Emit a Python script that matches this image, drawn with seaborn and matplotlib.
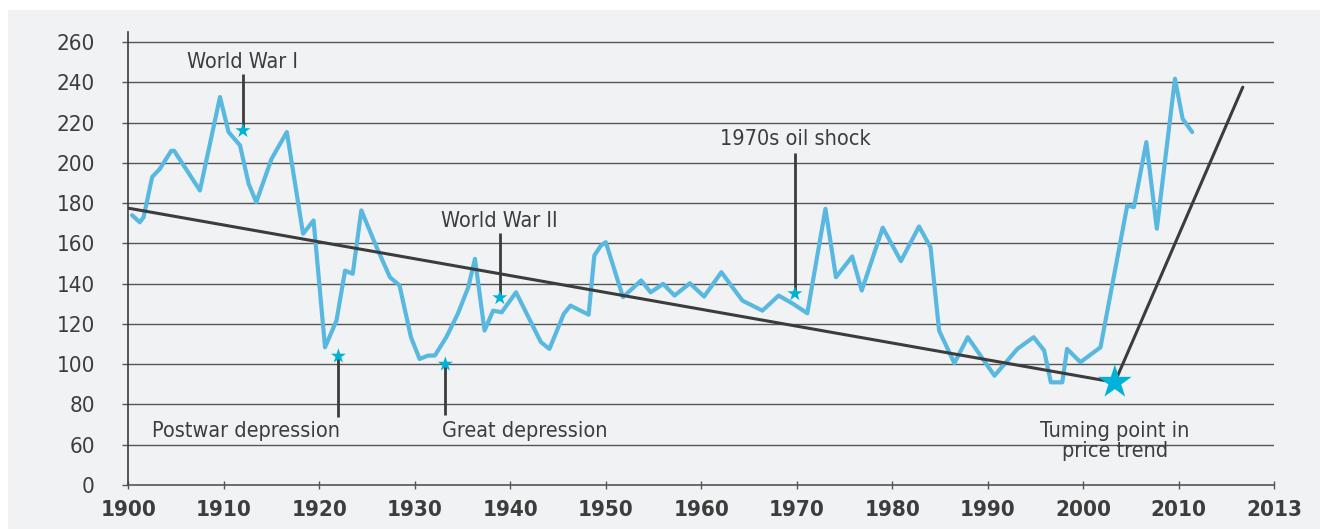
import numpy as np
import pandas as pd
import matplotlib.pyplot as plt
import seaborn as sns
from matplotlib import font_manager
from matplotlib.patches import Rectangle

# price index (vertices of the line)
years = [1900.4, 1901.2, 1901.6, 1902.5, 1903.3, 1904.5, 1904.8, 1907.5, 1909.6, 1910.5,
         1911.7, 1912.6, 1913.4, 1915.0, 1916.6, 1918.3, 1919.4, 1920.6, 1921.8, 1922.7,
         1923.5, 1924.4, 1926.0, 1927.4, 1928.4, 1929.6, 1930.5, 1931.4, 1932.1, 1933.3,
         1934.5, 1935.6, 1936.3, 1937.3, 1938.2, 1939.1, 1940.6, 1943.2, 1944.1, 1945.6,
         1946.3, 1948.2, 1948.8, 1949.5, 1950.0, 1951.8, 1953.7, 1954.7, 1956.0, 1957.2,
         1958.8, 1960.3, 1962.1, 1964.3, 1966.4, 1968.1, 1969.6, 1971.1, 1973.0, 1974.1,
         1975.8, 1976.8, 1979.0, 1980.9, 1982.8, 1984.0, 1984.9, 1986.5, 1987.9, 1990.7,
         1993.1, 1994.8, 1995.9, 1996.6, 1997.8, 1998.3, 1999.7, 2001.8, 2004.6, 2005.3,
         2006.6, 2007.7, 2009.6, 2010.4, 2011.4]
prices = [174, 170.5, 173, 193, 197, 206, 206, 186.3, 232.7, 215.3,
          208.7, 189.6, 180.5, 202, 215.3, 164.8, 171.4, 108.4, 121.7, 146.5,
          144.9, 176.4, 158.1, 143.2, 139.1, 113.4, 102.6, 104.3, 104.3, 113.4,
          125, 138.2, 152.3, 116.7, 126.6, 125.8, 135.7, 111, 107.6, 125,
          129.1, 124.6, 154, 159, 160.6, 133.3, 141.6, 135.7, 139.9, 134.1,
          140.2, 133.6, 145.7, 131.6, 126.6, 134.1, 130, 125.3, 177.2, 143.2,
          153.5, 136.6, 167.8, 151.2, 168.4, 158.1, 116.7, 100.5, 113.4, 94.3,
          107.6, 113.4, 106.8, 91, 91, 107.6, 101, 108.4, 178.8, 178,
          210.3, 167.3, 241.8, 221.9, 215.3]

# long-run trend and the turn after 2003
trend_years = [1900, 2003.3, 2016.7]
trend_vals = [177.5, 91, 237.6]

# events: star position, where the label sits
event_names = ['World War I', 'Postwar depression', 'Great depression', 'World War II', '1970s oil shock']
event_years = [1912.0, 1922.0, 1933.2, 1938.9, 1969.8]
event_vals = [216, 104, 100, 133, 135]
event_ends = [244, 74, 75, 165, 205]
label_y = [245, 72, 72, 166, 207]
label_ha = ['center', 'right', 'left', 'center', 'center']
label_va = ['bottom', 'top', 'top', 'bottom', 'bottom']

turn_year = 2003.3
turn_val = 91

# axis is broken: "0" sits where 40 would be, "2013" where 2020 would be
ytick_pos = [40, 60, 80, 100, 120, 140, 160, 180, 200, 220, 240, 260]
ytick_labels = ['0', '60', '80', '100', '120', '140', '160', '180', '200', '220', '240', '260']
xtick_pos = [1900, 1910, 1920, 1930, 1940, 1950, 1960, 1970, 1980, 1990, 2000, 2010, 2020]
xtick_labels = ['1900', '1910', '1920', '1930', '1940', '1950', '1960', '1970', '1980', '1990',
                '2000', '2010', '2013']

sns.set_style('white')

# pick a narrow face if the box has one
names = {f.name for f in font_manager.fontManager.ttflist}
stretch = 'normal'
if 'Liberation Sans Narrow' in names:
    family = ['Liberation Sans Narrow', 'DejaVu Sans']
elif any(f.name == 'DejaVu Sans' and f.stretch == 'condensed' for f in font_manager.fontManager.ttflist):
    family = ['DejaVu Sans']
    stretch = 'condensed'
else:
    family = ['Roboto', 'DejaVu Sans']
plt.rcParams['font.family'] = family
plt.rcParams['font.stretch'] = stretch

blue = '#58b8e0'
cyan = '#00b2d8'
dark = '#3c3c3c'
txt = '#3d3d3d'
bg = '#f1f2f4'
grid = '#555555'

fig = plt.figure(figsize=(13.2, 5.29), dpi=100)
fig.patch.set_facecolor('white')
fig.patches.append(Rectangle((8 / 1320, 0), 1 - 8 / 1320, 519 / 529, transform=fig.transFigure,
                             facecolor=bg, edgecolor='none', zorder=-1))
ax = fig.add_axes([128.3 / 1320, 44 / 529, 1146 / 1320, 453 / 529])
ax.set_facecolor('none')

df = pd.DataFrame({'year': years, 'price': prices})
sns.lineplot(data=df, x='year', y='price', ax=ax, color=blue, lw=3.0, sort=False,
             estimator=None, zorder=3)
sns.lineplot(x=trend_years, y=trend_vals, ax=ax, color=dark, lw=2.2, sort=False,
             estimator=None, zorder=4)

# connector lines from stars to labels
ax.vlines(event_years, event_vals, event_ends, color=dark, lw=2.0, zorder=5)
for name, x, y, ha, va in zip(event_names, event_years, label_y, label_ha, label_va):
    dx = 0.2 if ha == 'right' else (-0.4 if ha == 'left' else 0)
    ax.text(x + dx, y, name, ha=ha, va=va, fontsize=15.5, color=txt, zorder=6)

sns.scatterplot(x=event_years, y=event_vals, ax=ax, marker='*', s=130, color=cyan,
                edgecolor='none', zorder=6)
sns.scatterplot(x=[turn_year], y=[turn_val], ax=ax, marker='*', s=650, color=cyan,
                edgecolor='none', zorder=6)
ax.text(turn_year, 72, 'Tuming point in\nprice trend', ha='center', va='top', fontsize=15.5,
        color=txt, linespacing=1.0, zorder=6)

ax.set_xlim(1900, 2020)
ax.set_ylim(40, 265)
ax.set_yticks(ytick_pos)
ax.set_yticklabels(ytick_labels)
ax.set_xticks(xtick_pos)
ax.set_xticklabels(xtick_labels, fontweight='bold')
ax.set_xlabel('')
ax.set_ylabel('')

for y in ytick_pos[1:]:
    ax.axhline(y, color=grid, lw=1.0, zorder=1)

for s in ['top', 'right']:
    ax.spines[s].set_visible(False)
ax.spines['left'].set_color(dark)
ax.spines['left'].set_linewidth(1.2)
ax.spines['bottom'].set_color(grid)
ax.spines['bottom'].set_linewidth(1.2)

ax.tick_params(axis='y', length=4, width=1.0, color=grid, pad=20, labelsize=16,
               labelcolor=txt, left=True)
ax.tick_params(axis='x', length=6, width=1.0, color=grid, direction='inout', pad=8,
               labelsize=16, labelcolor=txt, bottom=True)

fig.savefig('out.png', dpi=100)
